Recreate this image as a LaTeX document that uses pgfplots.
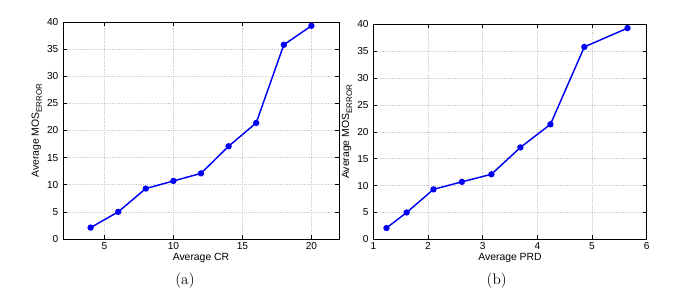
\documentclass[border=0pt]{standalone}
\usepackage{fontspec}
\usepackage{pgfplots}
\pgfplotsset{compat=1.18}
\newfontfamily\helv{Liberation Sans}
\definecolor{mblue}{RGB}{0,0,245}
\pgfplotsset{
  mstyle/.style={
    scale only axis,
    anchor=south west,
    xmajorgrids, ymajorgrids,
    grid style={densely dotted, gray!40, line width=0.4pt},
    axis line style={black, line width=0.5pt},
    tick align=inside,
    major tick length=3pt,
    tick style={black, line width=0.4pt},
    ymin=0, ymax=40, ytick={0,5,...,40},
    /pgf/number format/assume math mode=true,
    tick label style={font=\helv\fontsize{7.6}{8}\selectfont},
    label style={font=\helv\fontsize{7.8}{9}\selectfont},
    ylabel={Average MOS\raisebox{-0.55ex}{\fontsize{6}{6}\selectfont ERROR}},
    xlabel style={yshift=4pt},
    ylabel style={yshift=-3pt},
    xticklabel style={yshift=1pt},
  },
  mline/.style={color=mblue, line width=1.1pt, mark=*, mark size=1.8pt, mark options={fill=mblue, draw=mblue}},
}
\begin{document}
\begin{tikzpicture}
\path[use as bounding box] (0,0) rectangle (513.75pt,220.5pt);
\begin{axis}[mstyle, at={(47.25pt,41.25pt)}, width=207pt, height=162.75pt,
  xmin=2, xmax=22, xtick={5,10,15,20}, xlabel={Average CR}]
\addplot[mline] coordinates {
(4,2.1) (6,5.0) (8,9.3) (10,10.7) (12,12.1) (14,17.1) (16,21.4) (18,35.8) (20,39.3)};
\end{axis}
\begin{axis}[mstyle, at={(280pt,41pt)}, width=205pt, height=161.25pt,
  xmin=1, xmax=6, xtick={1,2,...,6}, xlabel={Average PRD}]
\addplot[mline] coordinates {
(1.24,2.1) (1.61,5.0) (2.10,9.3) (2.62,10.7) (3.16,12.1) (3.69,17.1) (4.24,21.4) (4.86,35.8) (5.65,39.3)};
\end{axis}
\node[font=\fontsize{11.5}{13}\selectfont] at (138.75pt,9.75pt) {(a)};
\node[font=\fontsize{11.5}{13}\selectfont] at (372.5pt,9.75pt) {(b)};
\end{tikzpicture}
\end{document}
